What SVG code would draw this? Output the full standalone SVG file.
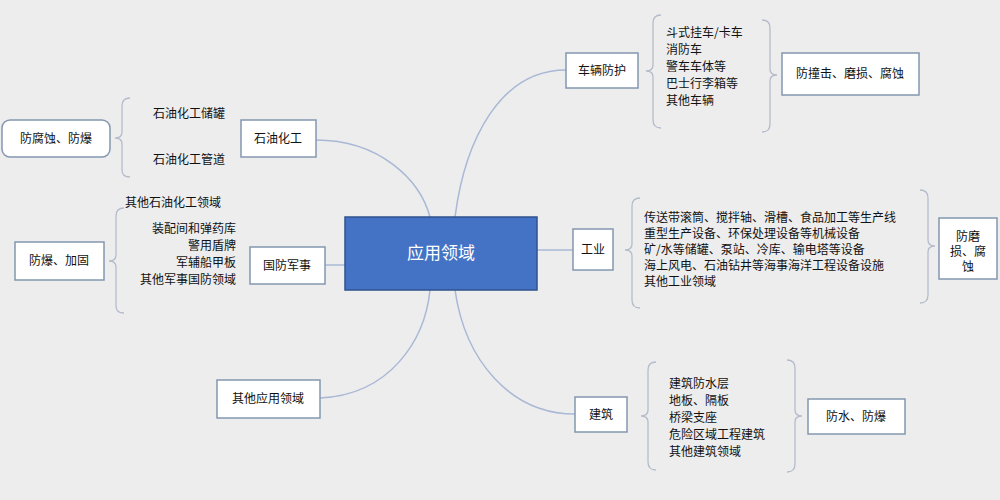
<svg xmlns="http://www.w3.org/2000/svg" width="1000" height="500" viewBox="0 0 1000 500">
<style>
text{font-family:"Noto Sans CJK SC","Liberation Sans",sans-serif;font-size:12px;fill:#111}
.b{fill:#fff;stroke:#8497b0;stroke-width:1.5}
.l{fill:none;stroke:#a9b8d4;stroke-width:1.5}
.br{fill:none;stroke:#b4bccb;stroke-width:1.3}
.c{text-anchor:middle}
.r{text-anchor:end}
</style>
<rect width="1000" height="500" fill="#ededee"/>
<g id="connectors">
<path class="l" d="M316,140 C380,140 420,180 430,217"/>
<path class="l" d="M325,265 L345,265"/>
<path class="l" d="M320,398 C390,395 425,340 430,290"/>
<path class="l" d="M566,70 C500,70 465,140 455,217"/>
<path class="l" d="M537,250 L573,250"/>
<path class="l" d="M575,414 C510,414 465,360 455,290"/>
</g>
<g id="center"><rect x="345" y="217" width="192" height="73" fill="#4472c4" stroke="#2f528f" stroke-width="1.5"/><text x="441" y="259" class="c" style="font-size:17px;fill:#fff">应用领域</text></g>
<g id="petro"><rect class="b" x="241" y="120" width="75" height="37"/><text x="278" y="143" class="c">石油化工</text></g>
<g id="petro-items"><text x="189" y="118" class="c">石油化工储罐</text><text x="189" y="164" class="c">石油化工管道</text>
<path class="br" d="M130,98 Q122,98 122,106 L122,132 Q122,138 115,138 Q122,138 122,144 L122,170 Q122,177 130,177"/></g>
<g id="petro-goal"><rect class="b" x="2" y="120" width="108" height="37" rx="8"/><text x="56" y="143" class="c">防腐蚀、防爆</text></g>
<g id="def"><rect class="b" x="250" y="247" width="75" height="37"/><text x="287" y="270" class="c">国防军事</text></g>
<g id="def-items"><text x="125" y="207">其他石油化工领域</text><text x="236" y="233" class="r">装配间和弹药库</text><text x="236" y="250" class="r">警用盾牌</text><text x="236" y="267" class="r">军辅船甲板</text><text x="236" y="284" class="r">其他军事国防领域</text>
<path class="br" d="M124,208 Q116,208 116,216 L116,255 Q116,261 109,261 Q116,261 116,267 L116,306 Q116,313 124,313"/></g>
<g id="def-goal"><rect class="b" x="15" y="242" width="89" height="38"/><text x="59" y="265" class="c">防爆、加固</text></g>
<g id="other"><rect class="b" x="217" y="380" width="103" height="38"/><text x="268" y="403" class="c">其他应用领域</text></g>
<g id="veh"><rect class="b" x="566" y="53" width="72" height="35"/><text x="602" y="75" class="c">车辆防护</text></g>
<g id="veh-items"><text x="666" y="37">斗式挂车/卡车</text><text x="666" y="54">消防车</text><text x="666" y="71">警车车体等</text><text x="666" y="88">巴士行李箱等</text><text x="666" y="105">其他车辆</text>
<path class="br" d="M661,15 Q653,15 653,23 L653,65 Q653,71 646,71 Q653,71 653,77 L653,120 Q653,128 661,128"/>
<path class="br" d="M762,20 Q770,20 770,28 L770,69 Q770,75 777,75 Q770,75 770,81 L770,124 Q770,132 762,132"/></g>
<g id="veh-goal"><rect class="b" x="782" y="53" width="137" height="42"/><text x="850" y="78" class="c">防撞击、磨损、腐蚀</text></g>
<g id="ind"><rect class="b" x="573" y="229" width="40" height="41"/><text x="593" y="254" class="c">工业</text></g>
<g id="ind-items"><text x="644" y="222">传送带滚筒、搅拌轴、滑槽、食品加工等生产线</text><text x="644" y="238">重型生产设备、环保处理设备等机械设备</text><text x="644" y="254">矿/水等储罐、泵站、冷库、输电塔等设备</text><text x="644" y="270">海上风电、石油钻井等海事海洋工程设备设施</text><text x="644" y="286">其他工业领域</text>
<path class="br" d="M640,198 Q632,198 632,206 L632,244 Q632,250 625,250 Q632,250 632,256 L632,300 Q632,308 640,308"/>
<path class="br" d="M920,190 Q928,190 928,198 L928,240 Q928,246 935,246 Q928,246 928,252 L928,295 Q928,303 920,303"/></g>
<g id="ind-goal"><rect class="b" x="939" y="218" width="58" height="61"/><text x="968" y="241" class="c">防磨</text><text x="968" y="256" class="c">损、腐</text><text x="968" y="271" class="c">蚀</text></g>
<g id="bld"><rect class="b" x="575" y="397" width="52" height="35"/><text x="601" y="419" class="c">建筑</text></g>
<g id="bld-items"><text x="669" y="388">建筑防水层</text><text x="669" y="405">地板、隔板</text><text x="669" y="422">桥梁支座</text><text x="669" y="439">危险区域工程建筑</text><text x="669" y="456">其他建筑领域</text>
<path class="br" d="M656,362 Q648,362 648,370 L648,410 Q648,416 641,416 Q648,416 648,422 L648,462 Q648,470 656,470"/>
<path class="br" d="M787,360 Q795,360 795,368 L795,410 Q795,416 802,416 Q795,416 795,422 L795,464 Q795,472 787,472"/></g>
<g id="bld-goal"><rect class="b" x="808" y="399" width="97" height="35"/><text x="856" y="421" class="c">防水、防爆</text></g>
</svg>
